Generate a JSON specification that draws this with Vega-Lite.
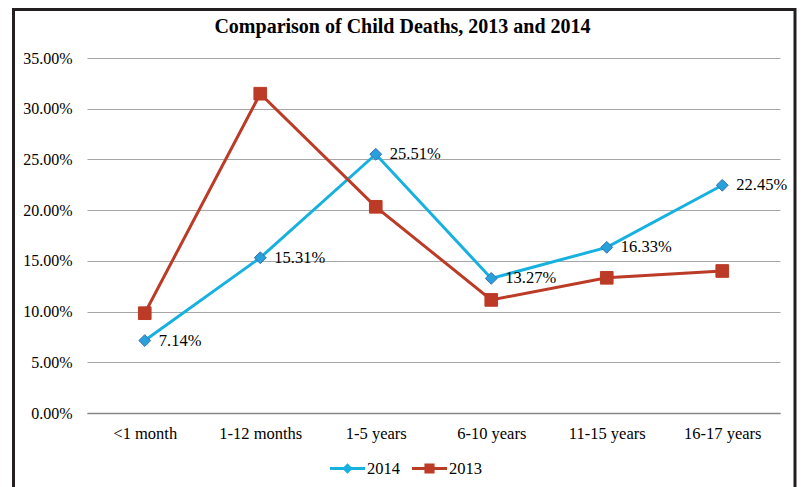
{
  "$schema": "https://vega.github.io/schema/vega-lite/v6.json",
  "width": 693,
  "height": 355,
  "autosize": {"type": "none"},
  "padding": {"left": 87, "top": 58, "right": 21, "bottom": 74},
  "background": "white",
  "config": {"view": {"stroke": null}, "font": "Liberation Serif"},
  "title": {
    "text": "Comparison of Child Deaths, 2013 and 2014",
    "font": "Liberation Serif",
    "fontSize": 20,
    "fontWeight": "bold",
    "color": "black",
    "anchor": "middle",
    "frame": "group",
    "dx": -31,
    "offset": -29
  },
  "data": {
    "values": [
      {"age": "<1 month", "series": "2014", "value": 0.0714},
      {"age": "1-12 months", "series": "2014", "value": 0.1531},
      {"age": "1-5 years", "series": "2014", "value": 0.2551},
      {"age": "6-10 years", "series": "2014", "value": 0.1327},
      {"age": "11-15 years", "series": "2014", "value": 0.1633},
      {"age": "16-17 years", "series": "2014", "value": 0.2245},
      {"age": "<1 month", "series": "2013", "value": 0.0984},
      {"age": "1-12 months", "series": "2013", "value": 0.3148},
      {"age": "1-5 years", "series": "2013", "value": 0.2033},
      {"age": "6-10 years", "series": "2013", "value": 0.1115},
      {"age": "11-15 years", "series": "2013", "value": 0.1333},
      {"age": "16-17 years", "series": "2013", "value": 0.1400}
    ]
  },
  "layer": [
    {
      "data": {"values": [{"frame": 1}]},
      "mark": {"type": "rect", "filled": false, "stroke": "#231F20", "strokeWidth": 3},
      "encoding": {
        "x": {"datum": 0, "type": "quantitative", "scale": {"domain": [0, 1], "range": [-73.5, 708], "nice": false, "zero": false}, "axis": null},
        "x2": {"datum": 1},
        "y": {"datum": 0, "type": "quantitative", "scale": {"domain": [0, 1], "range": [449, -48.5], "nice": false, "zero": false}, "axis": null},
        "y2": {"datum": 1}
      }
    },
    {
      "encoding": {
        "x": {
          "field": "age",
          "type": "nominal",
          "sort": ["<1 month", "1-12 months", "1-5 years", "6-10 years", "11-15 years", "16-17 years"],
          "scale": {"type": "point", "padding": 0.5},
          "axis": {
            "title": null,
            "labelAngle": 0,
            "labelFontSize": 16.5,
            "labelFont": "Liberation Serif",
            "labelColor": "black",
            "ticks": false,
            "tickSize": 0,
            "labelPadding": 12,
            "domain": true,
            "domainColor": "#868686",
            "domainWidth": 1.5,
            "grid": false
          }
        },
        "y": {
          "field": "value",
          "type": "quantitative",
          "scale": {"domain": [0, 0.35], "nice": false},
          "axis": {
            "title": null,
            "values": [0, 0.05, 0.1, 0.15, 0.2, 0.25, 0.3, 0.35],
            "format": ".2%",
            "grid": true,
            "gridColor": "#A6A6A6",
            "gridWidth": 1,
            "domain": false,
            "ticks": false,
            "tickSize": 0,
            "labelPadding": 15,
            "labelFontSize": 16,
            "labelFont": "Liberation Serif",
            "labelColor": "black"
          }
        }
      },
      "layer": [
        {
          "mark": {"type": "line", "strokeWidth": 3},
          "encoding": {
            "color": {
              "field": "series",
              "type": "nominal",
              "scale": {"domain": ["2014", "2013"], "range": ["#17B1E0", "#BC3B26"]},
              "legend": {
                "orient": "none",
                "legendX": 243,
                "legendY": 393,
                "direction": "horizontal",
                "title": null,
                "labelFontSize": 16.5,
                "labelFont": "Liberation Serif",
                "labelColor": "black",
                "symbolSize": 1225,
                "labelOffset": 2,
                "columnPadding": 12,
                "encode": {
                  "symbols": {
                    "update": {
                      "shape": {"signal": "datum.value == '2014' ? 'M-1,-0.09L1,-0.09L1,0.09L-1,0.09Z M0,-0.3L0.3,0L0,0.3L-0.3,0Z' : 'M-1,-0.09L1,-0.09L1,0.09L-1,0.09Z M-0.29,-0.29L0.29,-0.29L0.29,0.29L-0.29,0.29Z'"},
                      "fill": {"signal": "datum.value == '2014' ? '#17B1E0' : '#BC3B26'"},
                      "stroke": {"value": "transparent"},
                      "strokeWidth": {"value": 0}
                    }
                  }
                }
              }
            }
          }
        },
        {
          "transform": [{"filter": "datum.series == '2014'"}],
          "mark": {"type": "point", "shape": "diamond", "size": 140, "filled": true, "opacity": 1, "fill": "#28A0DA", "stroke": "#3C6FB6", "strokeWidth": 1}
        },
        {
          "transform": [{"filter": "datum.series == '2013'"}],
          "mark": {"type": "point", "shape": "square", "size": 160, "filled": true, "opacity": 1, "fill": "#BC3B26", "stroke": "#BC3B26", "strokeWidth": 1}
        },
        {
          "transform": [{"filter": "datum.series == '2014'"}],
          "mark": {"type": "text", "align": "left", "baseline": "middle", "dx": 14, "fontSize": 16.5, "font": "Liberation Serif", "color": "black"},
          "encoding": {
            "text": {"field": "value", "type": "quantitative", "format": ".2%"}
          }
        }
      ]
    }
  ],
  "resolve": {"scale": {"x": "independent", "y": "independent"}}
}
